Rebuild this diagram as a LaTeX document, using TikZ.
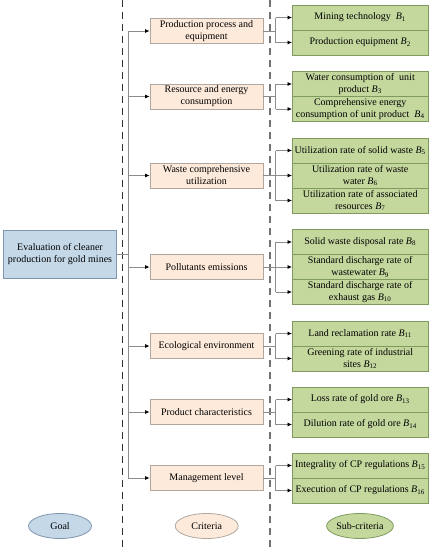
\documentclass[tikz,border=0pt]{standalone}
\usepackage{fontspec}
\setmainfont{Liberation Serif}
\usetikzlibrary{arrows.meta,shapes.geometric}
\definecolor{goalfill}{HTML}{C5D8E8}
\definecolor{goaldraw}{HTML}{8096AE}
\definecolor{critfill}{HTML}{FDEADB}
\definecolor{critdraw}{HTML}{B0A8A0}
\definecolor{subfill}{HTML}{C4D89E}
\definecolor{subdraw}{HTML}{7F9A5E}
\definecolor{lnk}{HTML}{8C8C8C}
\newcommand\Bsub[1]{\textit{B}\textsubscript{#1}}
\begin{document}
\begin{tikzpicture}[x=1pt,y=-1pt,
  font=\fontsize{10}{12}\selectfont,
  goalbox/.style={draw=goaldraw, fill=goalfill, line width=0.8pt, minimum width=113.5pt, minimum height=48pt, inner sep=1pt, align=center},
  crit/.style={draw=critdraw, fill=critfill, line width=0.8pt, minimum width=113pt, minimum height=25pt, inner sep=1pt, align=center},
  sub/.style={draw=subdraw, fill=subfill, line width=0.8pt, minimum width=135.5pt, minimum height=25pt, inner sep=1pt, align=center},
  ell/.style={ellipse, line width=0.8pt, minimum width=63pt, minimum height=25pt, inner sep=0pt},
  link/.style={draw=lnk, line width=0.8pt},
  conn/.style={draw=lnk, line width=0.8pt, -{Latex[length=4.5pt,width=4pt,black]}},
  dashline/.style={line width=1.1pt, dash pattern=on 7pt off 5pt}
]
\useasboundingbox (0,0) rectangle (434,550);

% dashed separators
\draw[dashline, draw=black!80] (122.3,0) -- (122.3,550);
\draw[dashline, draw=black!55] (270,0) -- (270,550);

% goal
\node[goalbox] (goal) at (60,254) {Evaluation of cleaner\\production for gold mines};

% criteria
\node[crit] (c1) at (206.5,31) {Production process and\\equipment};
\node[crit] (c2) at (206.5,96.5) {Resource and energy\\consumption};
\node[crit] (c3) at (206.5,175.5) {Waste comprehensive\\utilization};
\node[crit] (c4) at (206.5,267) {Pollutants emissions};
\node[crit] (c5) at (206.5,346) {Ecological environment};
\node[crit] (c6) at (206.5,412) {Product characteristics};
\node[crit] (c7) at (206.5,478) {Management level};

% sub-criteria
\node[sub] (b1) at (360.2,17.5) {Mining technology\ \ \Bsub{1}};
\node[sub] (b2) at (360.2,42.5) {Production equipment \Bsub{2}};
\node[sub] (b3) at (360.2,84) {Water consumption of\ \ unit\\product \Bsub{3}};
\node[sub] (b4) at (360.2,109) {Comprehensive energy\\consumption of unit product\ \ \Bsub{4}};
\node[sub] (b5) at (360.2,150.5) {Utilization rate of solid waste \Bsub{5}};
\node[sub] (b6) at (360.2,175.5) {Utilization rate of waste\\water \Bsub{6}};
\node[sub] (b7) at (360.2,200.5) {Utilization rate of associated\\resources \Bsub{7}};
\node[sub] (b8) at (360.2,242) {Solid waste disposal rate \Bsub{8}};
\node[sub] (b9) at (360.2,267) {Standard discharge rate of\\wastewater \Bsub{9}};
\node[sub] (b10) at (360.2,292) {Standard discharge rate of\\exhaust gas \Bsub{10}};
\node[sub] (b11) at (360.2,333.5) {Land reclamation rate \Bsub{11}};
\node[sub] (b12) at (360.2,358.5) {Greening rate of industrial\\sites \Bsub{12}};
\node[sub] (b13) at (360.2,399.5) {Loss rate of gold ore \Bsub{13}};
\node[sub] (b14) at (360.2,424.5) {Dilution rate of gold ore \Bsub{14}};
\node[sub] (b15) at (360.2,465.5) {Integrality of CP regulations \Bsub{15}};
\node[sub] (b16) at (360.2,490.5) {Execution of CP regulations \Bsub{16}};

% legend ellipses
\node[ell, draw=goaldraw, fill=goalfill] (lg) at (60,526) {Goal};
\node[ell, draw=critdraw, fill=critfill] (lc) at (206.7,526) {Criteria};
\node[ell, draw=subdraw, fill=subfill] (ls) at (360,526) {Sub-criteria};

% trunk from goal to criteria
\coordinate (trunk) at (128.3,0);
\draw[link] (goal.east) -- (trunk |- goal.east);
\draw[link] (trunk |- c1) -- (trunk |- c7);
\foreach \c in {c1,c2,c3,c4,c5,c6,c7}
  \draw[conn] (trunk |- \c) -- (\c.west);

% branches from criteria to sub-criteria
\coordinate (br) at (275.5,0);
\foreach \c/\f/\l in {c1/b1/b2, c2/b3/b4, c3/b5/b7, c4/b8/b10, c5/b11/b12, c6/b13/b14, c7/b15/b16}{
  \draw[link] (\c.east) -- (br |- \c);
  \draw[link] (br |- \f) -- (br |- \l);
}
\foreach \b in {b1,b2,b3,b4,b5,b6,b7,b8,b9,b10,b11,b12,b13,b14,b15,b16}
  \draw[conn] (br |- \b) -- (\b.west);
\end{tikzpicture}
\end{document}
